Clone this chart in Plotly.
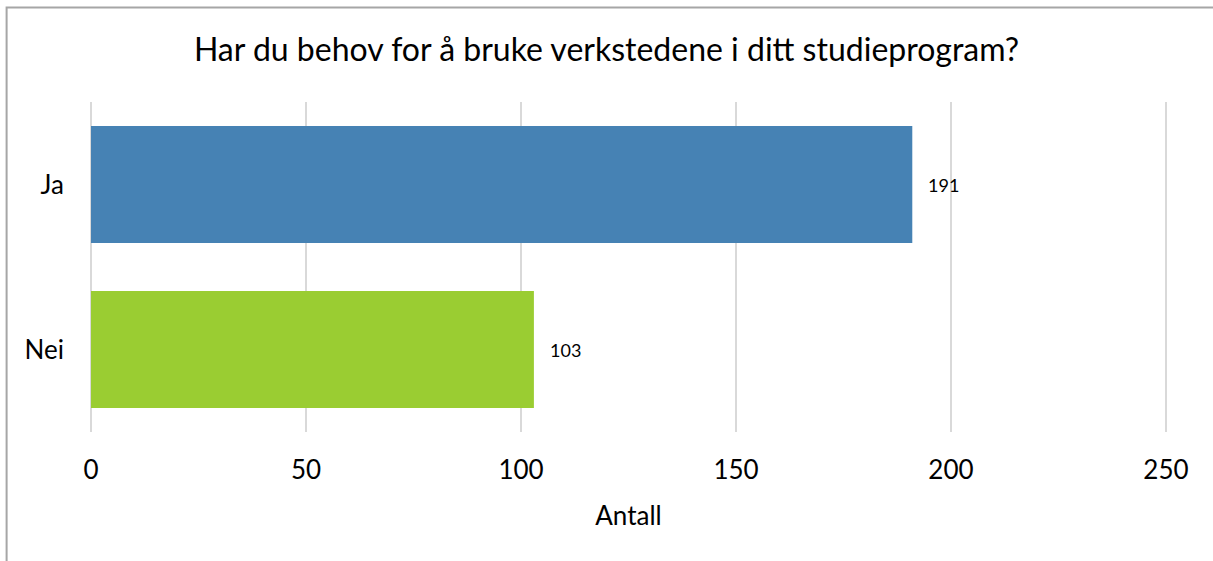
import plotly.graph_objects as go

# Survey answers and counts
categories = ["Ja", "Nei"]
counts = [191, 103]
bar_colors = ["#4682B4", "#9ACD32"]
x_ticks = [0, 50, 100, 150, 200, 250]

title_text = "Har du behov for å bruke verkstedene i ditt studieprogram?"
x_title = "Antall"

FONT = "Lato, Carlito, Calibri, sans-serif"

fig = go.Figure(
    go.Bar(
        y=categories,
        x=counts,
        orientation="h",
        marker=dict(color=bar_colors, line=dict(width=0)),
        width=0.71,
        hoverinfo="skip",
    )
)

# Value labels to the right of each bar
for cat, val in zip(categories, counts):
    fig.add_annotation(
        x=val, y=cat, text=str(val), showarrow=False,
        xanchor="left", xshift=14,
        font=dict(family=FONT, size=18, color="#000000"),
    )

# Light grey frame around the chart area
fig.add_shape(
    type="rect", xref="paper", yref="paper",
    x0=-0.0753, x1=1.3, y0=-0.6, y1=1.2864,
    line=dict(color="#a6a6a6", width=2), fillcolor="rgba(0,0,0,0)",
    layer="below",
)

fig.update_layout(
    width=1213, height=561,
    margin=dict(l=88, r=44, t=102, b=129),
    paper_bgcolor="white", plot_bgcolor="white",
    showlegend=False,
    font=dict(family=FONT, color="#000000"),
    title=dict(
        text=title_text, x=0.5, xanchor="center",
        y=1 - 50 / 561, yanchor="middle",
        font=dict(family=FONT, size=32, color="#000000"),
    ),
    xaxis=dict(
        range=[-0.7, 250.7], tickvals=x_ticks,
        showgrid=True, gridcolor="#d9d9d9", gridwidth=2,
        zeroline=False, showline=False,
        ticks="", ticklabelstandoff=20,
        tickfont=dict(family=FONT, size=26, color="#000000"),
        title=dict(text=x_title, standoff=22,
                   font=dict(family=FONT, size=26, color="#000000")),
        fixedrange=True,
    ),
    yaxis=dict(
        categoryorder="array", categoryarray=categories[::-1],
        showgrid=False, zeroline=False, showline=False,
        ticks="", ticklabelstandoff=23,
        tickfont=dict(family=FONT, size=26, color="#000000"),
        fixedrange=True,
    ),
)

fig.write_html("out.html")
